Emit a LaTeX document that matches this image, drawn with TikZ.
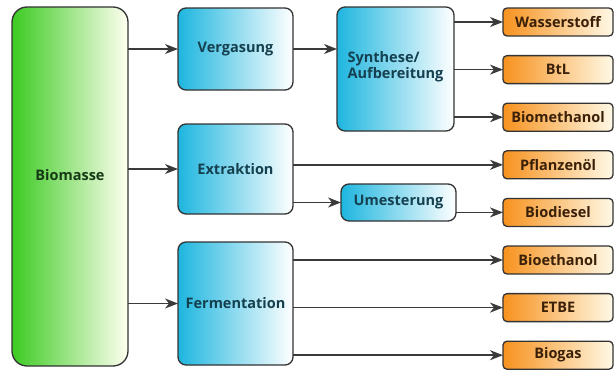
\documentclass[tikz,border=0pt]{standalone}
\usepackage{fontspec}
\setmainfont{Open Sans}
\usetikzlibrary{
    positioning,
    arrows.meta
}
\definecolor{boxborder}{HTML}{333333}
\definecolor{linegray}{HTML}{3A3A3A}
\definecolor{biogreen}{HTML}{3CCB22}
\definecolor{biolight}{HTML}{A6E86E}
\definecolor{bioend}{HTML}{FFFFF0}
\definecolor{procblue}{HTML}{1EB6DF}
\definecolor{proclight}{HTML}{7FDDF0}
\definecolor{prodorange}{HTML}{F7921E}
\definecolor{prodlight}{HTML}{FBC46A}
\definecolor{prodend}{HTML}{FFF9E6}
\definecolor{textgreen}{HTML}{163A16}
\definecolor{textblue}{HTML}{15404F}
\definecolor{textbrown}{HTML}{3A2008}
\tikzset{%
    base box/.style={%
        rectangle,
        draw=boxborder,
        line width=1.3pt,
        inner sep = 2pt,
        outer sep = 0pt,
        font=\bfseries\fontsize{14.5}{16}\selectfont
    },
    source box/.style={%
        base box,
        rounded corners=15pt,
        minimum width=116pt,
        minimum height=359pt,
        left color=biogreen,
        middle color=biolight,
        right color=bioend,
        text=textgreen
    },
    process box/.style={%
        base box,
        rounded corners=8pt,
        minimum width=115pt,
        left color=procblue,
        middle color=proclight,
        right color=white,
        text=textblue
    },
    product box/.style={%
        base box,
        rounded corners=4pt,
        minimum width=110pt,
        minimum height=28pt,
        left color=prodorange,
        middle color=prodlight,
        right color=prodend,
        text=textbrown
    },
    arrow/.style={%
        draw=linegray,
        line width=1.5pt,
        -{Stealth[length=13pt, width=10pt, inset=4pt]}
    },
}
\begin{document}
\begin{tikzpicture}[x=1pt, y=-1pt, node distance=19.6pt]
    \useasboundingbox (0,0) rectangle (614,372);

    \node[source box, text depth=24pt] (Biomasse) at (70,186.5) {Biomasse};

    \node[process box, minimum height=82pt] (Vergasung) at (235.5,49) {Vergasung};
    \node[process box, minimum height=90pt] (Extraktion) at (235.5,169) {Extraktion};
    \node[process box, minimum height=123pt] (Fermentation) at (235.5,303.5) {Fermentation};

    \node[process box, minimum width=117pt, minimum height=124pt, align=left] (Synthese) at (395.5,69) {Synthese/\\Aufbereitung\rule[-8pt]{0pt}{8pt}};
    \node[process box, minimum height=37pt] (Umesterung) at (398.5,202.5) {Umesterung};

    \node[product box] (Wasserstoff) at (558,22) {Wasserstoff};
    \node[product box, below=of Wasserstoff] (BtL) {BtL};
    \node[product box, below=of BtL] (Biomethanol) {Biomethanol};
    \node[product box, below=of Biomethanol] (Pflanzenoel) {Pflanzenöl};
    \node[product box, below=of Pflanzenoel] (Biodiesel) {Biodiesel};
    \node[product box, below=of Biodiesel] (Bioethanol) {Bioethanol};
    \node[product box, below=of Bioethanol] (ETBE) {ETBE};
    \node[product box, below=of ETBE] (Biogas) {Biogas};

    % Biomasse to the processes
    \draw[arrow] (Biomasse.east |- Vergasung.west) -- (Vergasung.west);
    \draw[arrow] (Biomasse.east |- Extraktion.west) -- (Extraktion.west);
    \draw[arrow] (Biomasse.east |- Fermentation.west) -- (Fermentation.west);

    % Vergasung path
    \draw[arrow] (Vergasung.east) -- (Synthese.west |- Vergasung.east);
    \draw[arrow] (Synthese.east |- Wasserstoff.west) -- (Wasserstoff.west);
    \draw[arrow] (Synthese.east |- BtL.west) -- (BtL.west);
    \draw[arrow] (Synthese.east |- Biomethanol.west) -- (Biomethanol.west);

    % Extraktion path
    \draw[arrow] (Extraktion.east |- Pflanzenoel.west) -- (Pflanzenoel.west);
    \draw[arrow] (Extraktion.east |- Umesterung.west) -- (Umesterung.west);
    \draw[arrow] (Umesterung.east |- Biodiesel.west) -- (Biodiesel.west);

    % Fermentation path
    \draw[arrow] (Fermentation.east |- Bioethanol.west) -- (Bioethanol.west);
    \draw[arrow] (Fermentation.east |- ETBE.west) -- (ETBE.west);
    \draw[arrow] (Fermentation.east |- Biogas.west) -- (Biogas.west);
\end{tikzpicture}
\end{document}
